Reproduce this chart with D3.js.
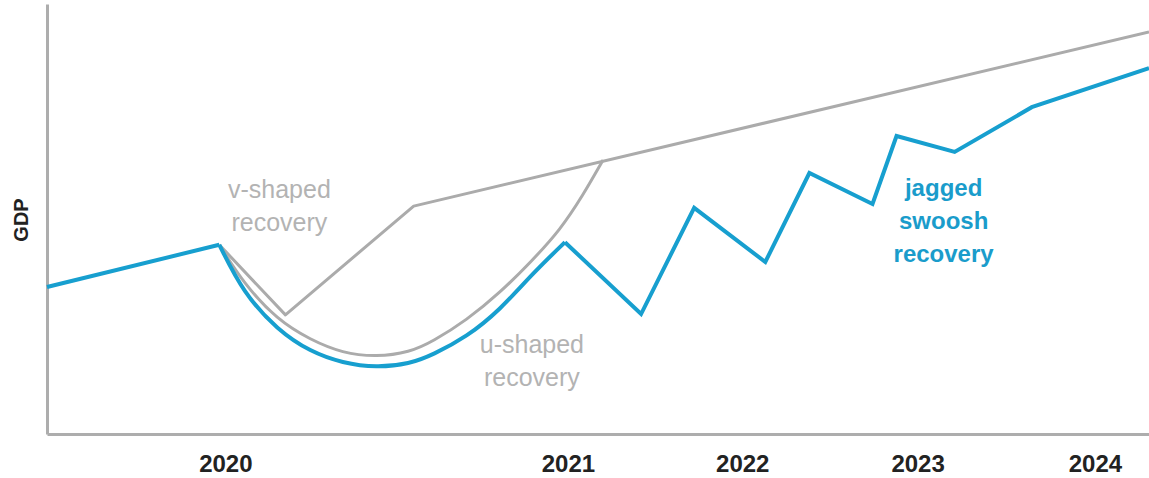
<!DOCTYPE html>
<html>
<head>
<meta charset="utf-8">
<script src="https://cdn.jsdelivr.net/npm/d3@7"></script>
<style>
  body { margin: 0; background: #fff; }
  svg { display: block; font-family: "Liberation Sans", Arial, sans-serif; }
</style>
</head>
<body>
<div id="chart"></div>
<script>
// time is an abstract index (0..110), GDP an abstract level (0..100)
const years = [2020, 2021, 2022, 2023, 2024];
const yearPos = [17.8, 52.0, 69.4, 86.9, 104.6];

const preCrisis = [[0, 34.2], [17.2, 44.0]];
const jaggedU = [[17.2, 44.0], [19.6, 32.8], [23.0, 24.2], [26.3, 19.1], [29.5, 16.5], [32.9, 15.4], [36.2, 16.3], [38.5, 18.4], [41.9, 22.6], [45.2, 28.8], [48.5, 37.4], [51.7, 44.6]];
const jaggedTail = [[51.7, 44.6], [59.3, 27.9], [64.6, 52.6], [71.7, 40.0], [76.1, 60.7], [82.4, 53.5], [84.8, 69.3], [90.6, 65.6], [98.3, 76.0], [110, 85.1]];
const vShaped = [[17.2, 44.0], [23.8, 27.7], [36.6, 53.0], [110, 93.5]];
const uShaped = [[17.2, 44.0], [19.6, 35.1], [23.0, 26.5], [26.3, 21.9], [29.5, 18.8], [32.9, 17.9], [36.2, 19.0], [38.5, 21.5], [41.9, 26.5], [45.2, 32.8], [48.5, 40.5], [51.2, 47.4], [53.5, 55.5], [55.5, 63.7]];

const labels = [
  {lines: ["v-shaped", "recovery"], t: 23.2, v: 54.9, cls: "grey"},
  {lines: ["u-shaped", "recovery"], t: 48.4, v: 18.8, cls: "grey"},
  {lines: ["jagged", "swoosh", "recovery"], t: 89.5, v: 55.4, cls: "blue"}
];

const width = 1149, height = 478;
const margin = {top: 4, right: 0, bottom: 44, left: 47};

const blue = "#179fcf", grey = "#ababab";

const svg = d3.select("#chart").append("svg")
    .attr("width", width)
    .attr("height", height);

const x = d3.scaleLinear().domain([0, 110]).range([margin.left, width - margin.right]);
const y = d3.scaleLinear().domain([0, 100]).range([height - margin.bottom, margin.top]);

// axes
const xAxis = svg.append("g")
    .attr("transform", `translate(0,${y(0)})`)
    .call(d3.axisBottom(x).tickValues(yearPos).tickSize(0).tickSizeOuter(0).tickPadding(21)
      .tickFormat((d, i) => years[i]));
xAxis.select(".domain").attr("stroke", "#adadad").attr("stroke-width", 3);
xAxis.selectAll("text")
    .attr("font-size", 24)
    .attr("font-weight", 600)
    .attr("fill", "#222")
    .attr("font-family", "Liberation Sans, Arial, sans-serif");

const yAxis = svg.append("g")
    .attr("transform", `translate(${x(0)},0)`)
    .call(d3.axisLeft(y).tickValues([]).tickSizeOuter(0));
yAxis.select(".domain").attr("stroke", "#adadad").attr("stroke-width", 3);

svg.append("text")
    .attr("transform", `translate(28,${220}) rotate(-90)`)
    .attr("text-anchor", "middle")
    .attr("font-size", 20)
    .attr("font-weight", 600)
    .attr("fill", "#222")
    .text("GDP");

const straight = d3.line().x(d => x(d[0])).y(d => y(d[1]));
const smooth = d3.line().x(d => x(d[0])).y(d => y(d[1])).curve(d3.curveBasis);

// grey alternatives
svg.append("path").datum(vShaped)
    .attr("d", straight).attr("fill", "none")
    .attr("stroke", grey).attr("stroke-width", 3).attr("stroke-linejoin", "round");
svg.append("path").datum(uShaped)
    .attr("d", smooth).attr("fill", "none")
    .attr("stroke", grey).attr("stroke-width", 3);

// blue jagged swoosh
svg.append("path").datum(jaggedU)
    .attr("d", smooth).attr("fill", "none")
    .attr("stroke", blue).attr("stroke-width", 4);
[preCrisis, jaggedTail].forEach(seg => {
  svg.append("path").datum(seg)
      .attr("d", straight).attr("fill", "none")
      .attr("stroke", blue).attr("stroke-width", 4).attr("stroke-linejoin", "miter");
});

// annotations
labels.forEach(l => {
  const isBlue = l.cls === "blue";
  const txt = svg.append("text")
      .attr("text-anchor", "middle")
      .attr("font-size", isBlue ? 24 : 25)
      .attr("font-weight", isBlue ? 700 : 500)
      .attr("fill", isBlue ? "#1a9ccb" : "#b3b3b3");
  l.lines.forEach((s, i) => {
    txt.append("tspan")
        .attr("x", x(l.t))
        .attr("y", y(l.v) + i * 33)
        .text(s);
  });
});
</script>
</body>
</html>
